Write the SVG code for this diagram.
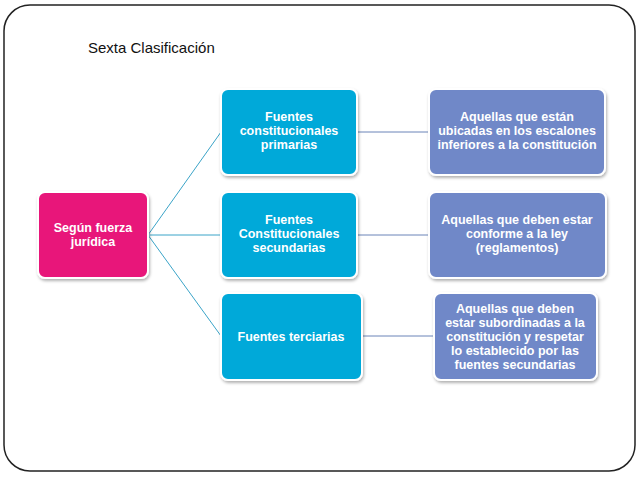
<svg xmlns="http://www.w3.org/2000/svg" width="638" height="479" viewBox="0 0 638 479">
<defs>
<filter id="sh" x="-10%" y="-10%" width="130%" height="130%"><feDropShadow dx="1" dy="2" stdDeviation="1.5" flood-color="#000" flood-opacity="0.3"/></filter>
</defs>
<style>
.b{stroke:#fff;stroke-width:2;filter:url(#sh)}
.p{fill:#E8157A}.c{fill:#03A9D9}.v{fill:#7088C8}
.t{font-family:"Liberation Sans",Arial,sans-serif;font-weight:bold;font-size:12.5px;fill:#fff;text-anchor:middle}
.l{stroke:#3BA4C8;stroke-width:1;fill:none}
.h{stroke:#6A84B8;stroke-width:1;fill:none}
</style>
<rect width="638" height="479" fill="#fff"/>
<rect x="4" y="5" width="631" height="466" rx="26" fill="none" stroke="#222" stroke-width="1.5"/>
<text x="88" y="53" font-family="Liberation Sans,Arial,sans-serif" font-size="15" fill="#111">Sexta Clasificación</text>
<g id="connectors">
<path class="l" d="M148 235 L221 132 M148 235 L221 235 M148 235 L221 336"/>
<path class="h" d="M357 132 L429 132 M357 235 L429 235 M362 336 L434 336"/>
</g>
<g id="n0"><rect class="b p" x="38" y="192" width="110" height="86" rx="7"/><text class="t" x="93" y="232">Según fuerza</text><text class="t" x="93" y="246">jurídica</text></g>
<g id="n1"><rect class="b c" x="221" y="89" width="136" height="86" rx="7"/><text class="t" x="289" y="121">Fuentes</text><text class="t" x="289" y="135">constitucionales</text><text class="t" x="289" y="149">primarias</text></g>
<g id="n2"><rect class="b c" x="221" y="192" width="136" height="86" rx="7"/><text class="t" x="289" y="224">Fuentes</text><text class="t" x="289" y="238">Constitucionales</text><text class="t" x="289" y="252">secundarias</text></g>
<g id="n3"><rect class="b c" x="221" y="293" width="141" height="87" rx="7"/><text class="t" x="291" y="341">Fuentes terciarias</text></g>
<g id="n4"><rect class="b v" x="429" y="89" width="176" height="86" rx="7"/><text class="t" x="517" y="121">Aquellas que están</text><text class="t" x="517" y="135">ubicadas en los escalones</text><text class="t" x="517" y="149">inferiores a la constitución</text></g>
<g id="n5"><rect class="b v" x="429" y="192" width="177" height="86" rx="7"/><text class="t" x="517" y="224">Aquellas que deben estar</text><text class="t" x="517" y="238">conforme a la ley</text><text class="t" x="517" y="252">(reglamentos)</text></g>
<g id="n6"><rect class="b v" x="434" y="293" width="163" height="87" rx="7"/><text class="t" x="515" y="313">Aquellas que deben</text><text class="t" x="515" y="327">estar subordinadas a la</text><text class="t" x="515" y="341">constitución y respetar</text><text class="t" x="515" y="355">lo establecido por las</text><text class="t" x="515" y="369">fuentes secundarias</text></g>
</svg>
